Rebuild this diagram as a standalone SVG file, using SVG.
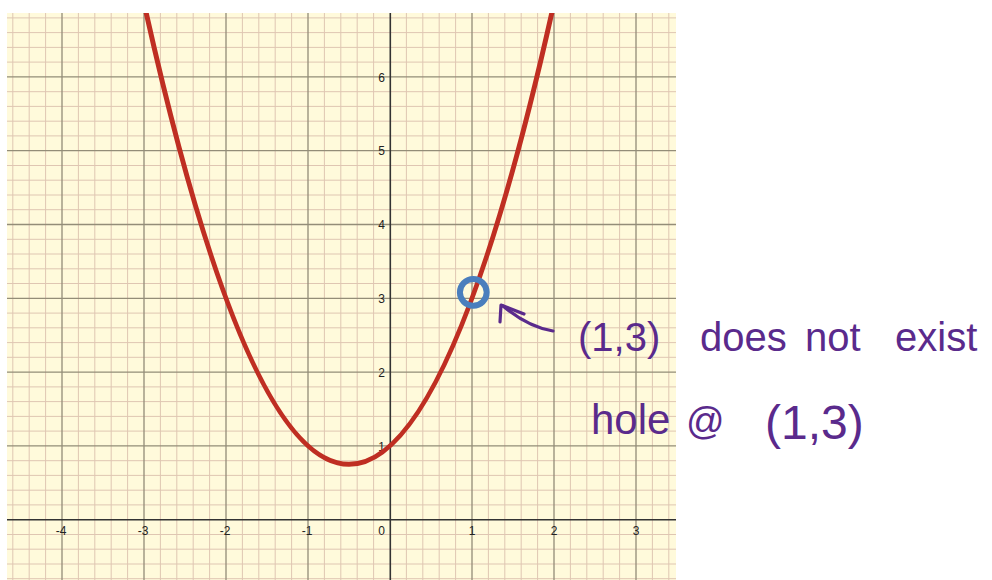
<svg xmlns="http://www.w3.org/2000/svg" width="992" height="580" viewBox="0 0 992 580">
<defs>
<style>
.minor{stroke:#dfc6b2;stroke-width:1;fill:none}
.major{stroke:#938d78;stroke-width:1.3;fill:none}
.axis{stroke:#333;stroke-width:1.6;fill:none}
.tick{font-family:"Liberation Sans",Arial,sans-serif;font-size:12px;fill:#222}
.hand{font-family:"Liberation Sans",Arial,sans-serif;fill:#5a2a8c}
.ink{stroke:#5a2a8c;stroke-width:3.2;fill:none;stroke-linecap:round;stroke-linejoin:round}
</style>
<clipPath id="plot"><rect x="7" y="13" width="669" height="567"/></clipPath>
</defs>
<rect width="992" height="580" fill="#fff"/>
<g id="grid" clip-path="url(#plot)">
<rect x="7" y="13" width="669" height="567" fill="#fffadb"/>
<path class="minor" d="M12.8,13V580M29.2,13V580M45.6,13V580M78.4,13V580M94.8,13V580M111.2,13V580M127.6,13V580M160.4,13V580M176.8,13V580M193.2,13V580M209.6,13V580M242.4,13V580M258.8,13V580M275.2,13V580M291.6,13V580M324.4,13V580M340.8,13V580M357.2,13V580M373.6,13V580M406.4,13V580M422.8,13V580M439.2,13V580M455.6,13V580M488.4,13V580M504.8,13V580M521.2,13V580M537.6,13V580M570.4,13V580M586.8,13V580M603.2,13V580M619.6,13V580M652.4,13V580M668.8,13V580
M7,578.7H676M7,564H676M7,549.2H676M7,534.5H676M7,504.9H676M7,490.2H676M7,475.4H676M7,460.7H676M7,431.1H676M7,416.4H676M7,401.6H676M7,386.9H676M7,357.3H676M7,342.6H676M7,327.8H676M7,313.1H676M7,283.5H676M7,268.8H676M7,254H676M7,239.3H676M7,209.7H676M7,195H676M7,180.2H676M7,165.5H676M7,135.9H676M7,121.2H676M7,106.4H676M7,91.7H676M7,62.1H676M7,47.4H676M7,32.6H676M7,17.9H676"/>
<path class="major" d="M62,13V580M144,13V580M226,13V580M308,13V580M472,13V580M554,13V580M636,13V580M7,445.9H676M7,372.1H676M7,298.3H676M7,224.5H676M7,150.7H676M7,76.9H676"/>
<path class="axis" d="M390.3,13V580M7,519.7H676"/>
</g>
<g id="tick-labels">
<text class="tick" x="385" y="81.5" text-anchor="end">6</text>
<text class="tick" x="385" y="155.3" text-anchor="end">5</text>
<text class="tick" x="385" y="229.1" text-anchor="end">4</text>
<text class="tick" x="385" y="302.9" text-anchor="end">3</text>
<text class="tick" x="385" y="376.7" text-anchor="end">2</text>
<text class="tick" x="385" y="450.5" text-anchor="end">1</text>
<text class="tick" x="385" y="535" text-anchor="end">0</text>
<text class="tick" x="61" y="535" text-anchor="middle">-4</text>
<text class="tick" x="143" y="535" text-anchor="middle">-3</text>
<text class="tick" x="225" y="535" text-anchor="middle">-2</text>
<text class="tick" x="307" y="535" text-anchor="middle">-1</text>
<text class="tick" x="472" y="535" text-anchor="middle">1</text>
<text class="tick" x="554" y="535" text-anchor="middle">2</text>
<text class="tick" x="636" y="535" text-anchor="middle">3</text>
</g>
<g id="curve" clip-path="url(#plot)">
<path d="M144,3.1Q349,925.6 554,3.1" fill="none" stroke="#bf2e22" stroke-width="5" stroke-linecap="round"/>
</g>
<g id="hole">
<circle cx="473.3" cy="292.3" r="13.4" fill="none" stroke="#4a7ebd" stroke-width="6"/>
</g>
<g id="connectors">
<path class="ink" d="M553,331Q528,327 503,306"/>
<path class="ink" d="M500,322L501,305L524,314"/>
</g>
<g id="annotation">
<text class="hand" font-size="40" y="351"><tspan x="578">(1,3)</tspan> <tspan x="700">does</tspan> <tspan x="805">not</tspan> <tspan x="895">exist</tspan></text>
<text class="hand" font-size="42" y="434"><tspan x="591">hole</tspan> <tspan x="686" font-size="38">@</tspan> <tspan x="765" font-size="48" y="439">(1,3)</tspan></text>
</g>
</svg>
